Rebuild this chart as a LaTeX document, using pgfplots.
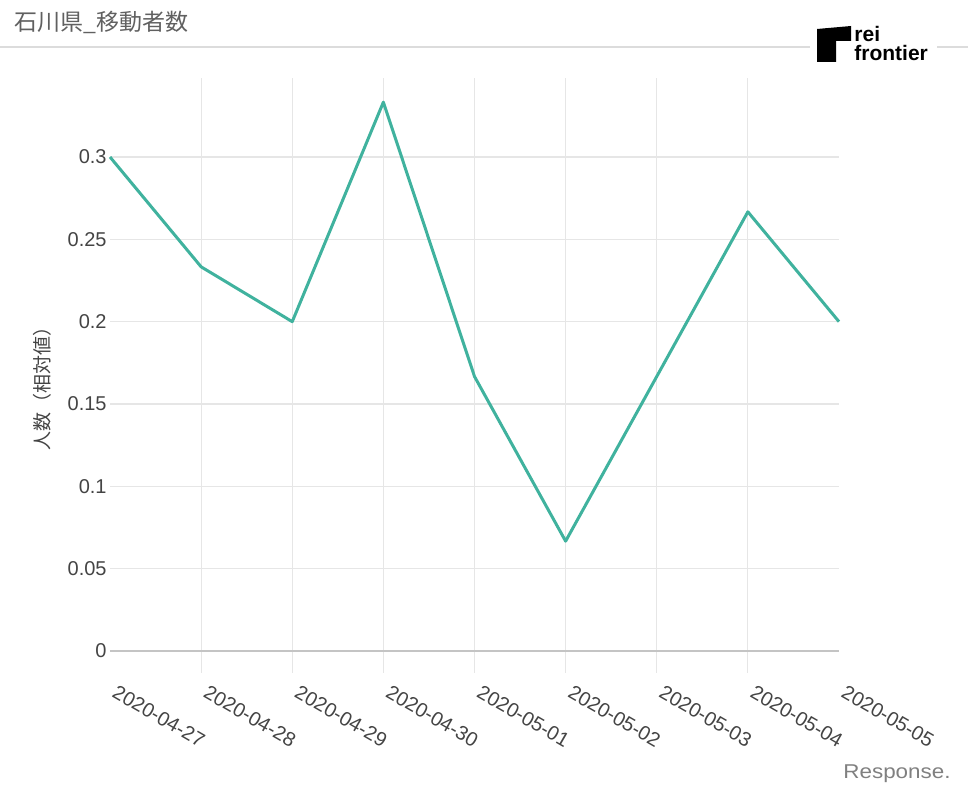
\documentclass[border=0pt]{standalone}
\usepackage{pgfplots}
\pgfplotsset{compat=1.18}
\usepackage{fontspec}
\setmainfont{Liberation Sans}
\newfontfamily\cjk{Noto Sans CJK JP}
\definecolor{txt}{HTML}{444444}
\definecolor{gridc}{HTML}{E6E6E6}
\definecolor{zeroc}{HTML}{C4C4C4}
\definecolor{linec}{RGB}{64,178,158}
\definecolor{rulec}{HTML}{DCDCDC}
\begin{document}
\begin{tikzpicture}
\path[use as bounding box] (0,0) rectangle (484pt,399pt);
% header
\node[anchor=west, inner sep=0pt, text=txt!85, font=\cjk\fontsize{11.5}{13}\selectfont] at (7pt,388pt) {石川県\_移動者数};
\draw[rulec, line width=1pt] (0,375.5pt) -- (405pt,375.5pt);
\draw[rulec, line width=1pt] (468.5pt,375.5pt) -- (484pt,375.5pt);
% logo
\fill[black] (408.5pt,384.5pt) -- (425.5pt,386pt) -- (425.5pt,378.5pt) -- (418pt,378.5pt) -- (418pt,368pt) -- (408.5pt,368pt) -- cycle;
\node[anchor=base west, inner sep=0pt, font=\bfseries\fontsize{10.5}{12}\selectfont] at (427pt,378pt) {rei};
\node[anchor=base west, inner sep=0pt, font=\bfseries\fontsize{10.5}{12}\selectfont] at (427pt,368.5pt) {frontier};
% watermark
\node[anchor=west, inner sep=0pt, text=black!50, font=\fontsize{10}{12}\selectfont, xscale=1.12] at (421.5pt,12pt) {Response.};
\begin{axis}[
  at={(55pt,62.5pt)}, anchor=south west,
  scale only axis, width=364.5pt, height=297.5pt,
  xmin=0, xmax=8, ymin=-0.01336, ymax=0.34797,
  axis line style={draw=none},
  major tick length=0pt,
  clip=false,
  xtick={0,1,2,3,4,5,6,7,8},
  xticklabels={2020-04-27,2020-04-28,2020-04-29,2020-04-30,2020-05-01,2020-05-02,2020-05-03,2020-05-04,2020-05-05},
  xticklabel style={yshift=-5.5pt, xshift=4pt, rotate=-30, anchor=north west, inner sep=0pt, text=txt, font=\fontsize{10}{12}\selectfont},
  extra x ticks={1,2,3,4,5,6,7},
  extra x tick labels={},
  extra x tick style={grid=major, grid style={gridc, line width=0.6pt}},
  ytick={0.05,0.1,0.15,0.2,0.25,0.3},
  yticklabels={0.05,0.1,0.15,0.2,0.25,0.3},
  scaled y ticks=false,
  ymajorgrids, grid style={gridc, line width=0.6pt},
  extra y ticks={0},
  extra y tick labels={0},
  extra y tick style={grid=major, grid style={zeroc, line width=0.8pt}},
  yticklabel style={anchor=east, inner sep=0pt, xshift=-1.5pt, text=txt, font=\fontsize{10}{12}\selectfont},
  ylabel={\cjk 人数（相対値）},
  ylabel style={at={(axis description cs:-0.0933,0.4857)}, anchor=center, text=txt, font=\cjk\fontsize{9.5}{11}\selectfont},
]
\addplot[linec, line width=1.5pt, line join=round] coordinates {
  (0,0.3) (1,0.2333) (2,0.2) (3,0.3333) (4,0.1667) (5,0.0667) (6,0.1667) (7,0.2667) (8,0.2)
};
\end{axis}
\end{tikzpicture}
\end{document}
